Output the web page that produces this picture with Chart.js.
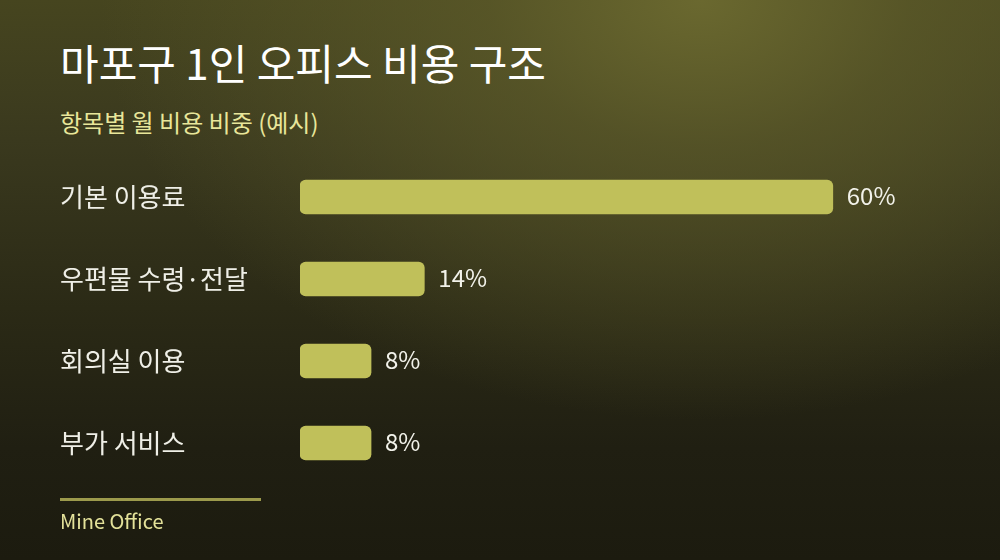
<!DOCTYPE html>
<html>
<head>
<meta charset="utf-8">
<script src="https://cdn.jsdelivr.net/npm/chart.js"></script>
<style>
  html, body { margin: 0; padding: 0; }
  body {
    width: 1000px; height: 560px; overflow: hidden; position: relative;
    font-family: "Noto Sans CJK KR", "Noto Sans", sans-serif;
    background:
      radial-gradient(ellipse 600px 420px at 70% 0%, rgba(108,106,48,0.95) 0%, rgba(94,92,42,0.7) 35%, rgba(70,68,34,0) 100%),
      linear-gradient(180deg, #46451f 0%, #3a391e 25%, #2b2a16 55%, #201f12 80%, #1c1b0f 100%);
  }
  #title { position: absolute; left: 60px; top: 34px; margin: 0; font-size: 42px; line-height: 56px; font-weight: 400; color: #ffffff; }
  #subtitle { position: absolute; left: 60px; top: 106px; margin: 0; font-size: 24px; line-height: 32px; font-weight: 400; color: #e8e69a; }
  #rule { position: absolute; left: 60px; top: 498px; width: 201px; height: 3px; background: #9c9a4c; }
  #source { position: absolute; left: 60px; top: 507px; font-size: 20px; line-height: 28px; color: #e4e29a; }
  #wrap { position: absolute; left: 0; top: 0; width: 1000px; height: 560px; }
</style>
</head>
<body>
<h1 id="title">마포구 1인 오피스 비용 구조</h1>
<div id="subtitle">항목별 월 비용 비중 (예시)</div>
<div id="wrap"><canvas id="barChart"></canvas></div>
<div id="rule"></div>
<div id="source">Mine Office</div>
<script>
  const categories = ['기본 이용료', '우편물 수령·전달', '회의실 이용', '부가 서비스'];
  const shares = [60, 14, 8, 8];
  const valueLabels = ['60%', '14%', '8%', '8%'];

  // draws the % text right of each bar
  const valueLabelPlugin = {
    id: 'valueLabels',
    afterDatasetsDraw(chart) {
      const ctx = chart.ctx;
      const meta = chart.getDatasetMeta(0);
      ctx.save();
      ctx.font = '24px "Noto Sans CJK KR", "Noto Sans", sans-serif';
      ctx.fillStyle = '#f2f2ea';
      ctx.textBaseline = 'middle';
      ctx.textAlign = 'left';
      meta.data.forEach((bar, i) => {
        ctx.fillText(valueLabels[i], bar.x + 14, bar.y - 1);
      });
      ctx.restore();
    }
  };

  const ctx = document.getElementById('barChart').getContext('2d');
  const chart = new Chart(ctx, {
    type: 'bar',
    data: {
      labels: categories,
      datasets: [{
        data: shares,
        backgroundColor: '#c0c05a',
        borderRadius: 6,
        borderSkipped: false,
        barThickness: 34
      }]
    },
    options: {
      indexAxis: 'y',
      responsive: true,
      maintainAspectRatio: false,
      animation: false,
      layout: { padding: { top: 156, bottom: 76, left: 60, right: 34 } },
      plugins: {
        legend: { display: false },
        tooltip: { enabled: false }
      },
      scales: {
        x: { display: false, min: 0, max: 75 },
        y: {
          grid: { display: false },
          border: { display: false },
          afterFit(scale) { scale.width = 240; },
          ticks: {
            crossAlign: 'far',
            color: '#efefe7',
            padding: 0,
            font: { family: '"Noto Sans CJK KR", "Noto Sans", sans-serif', size: 26 }
          }
        }
      }
    },
    plugins: [valueLabelPlugin]
  });
</script>
</body>
</html>
